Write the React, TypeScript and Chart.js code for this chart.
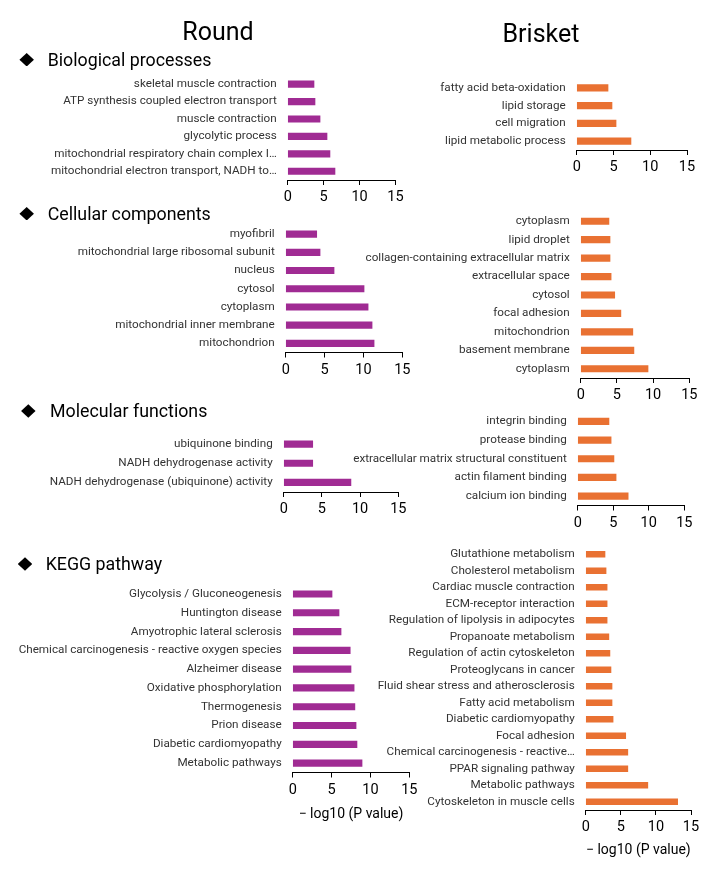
import React, { useEffect, useRef } from "react";
import { Chart, registerables } from "chart.js";

Chart.register(...registerables);

const PURPLE = "#A02B93";
const ORANGE = "#E97132";
const FONT = "Roboto, 'Liberation Sans', sans-serif";
const AXIS_TITLE = "− log10 (P value)";
const X_MIN = 0;
const X_MAX = 15;
const X_STEP = 5;

// ---------- data (top to bottom) ----------
const roundBPLabels = [
  "skeletal muscle contraction",
  "ATP synthesis coupled electron transport",
  "muscle contraction",
  "glycolytic process",
  "mitochondrial respiratory chain complex I…",
  "mitochondrial electron transport, NADH to…",
];
const roundBPValues = [3.66, 3.8, 4.5, 5.47, 5.88, 6.58];

const brisketBPLabels = [
  "fatty acid beta-oxidation",
  "lipid storage",
  "cell migration",
  "lipid metabolic process",
];
const brisketBPValues = [4.26, 4.8, 5.35, 7.38];

const roundCCLabels = [
  "myofibril",
  "mitochondrial large ribosomal subunit",
  "nucleus",
  "cytosol",
  "cytoplasm",
  "mitochondrial inner membrane",
  "mitochondrion",
];
const roundCCValues = [3.99, 4.42, 6.22, 10.08, 10.6, 11.11, 11.37];

const brisketCCLabels = [
  "cytoplasm",
  "lipid droplet",
  "collagen-containing extracellular matrix",
  "extracellular space",
  "cytosol",
  "focal adhesion",
  "mitochondrion",
  "basement membrane",
  "cytoplasm",
];
const brisketCCValues = [3.9, 4.05, 4.05, 4.2, 4.7, 5.55, 7.2, 7.35, 9.3];

const roundMFLabels = [
  "ubiquinone binding",
  "NADH dehydrogenase activity",
  "NADH dehydrogenase (ubiquinone) activity",
];
const roundMFValues = [3.8, 3.8, 8.8];

const brisketMFLabels = [
  "integrin binding",
  "protease binding",
  "extracellular matrix structural constituent",
  "actin filament binding",
  "calcium ion binding",
];
const brisketMFValues = [4.4, 4.7, 5.1, 5.4, 7.1];

const roundKEGGLabels = [
  "Glycolysis / Gluconeogenesis",
  "Huntington disease",
  "Amyotrophic lateral sclerosis",
  "Chemical carcinogenesis - reactive oxygen species",
  "Alzheimer disease",
  "Oxidative phosphorylation",
  "Thermogenesis",
  "Prion disease",
  "Diabetic cardiomyopathy",
  "Metabolic pathways",
];
const roundKEGGValues = [5.06, 5.96, 6.22, 7.4, 7.5, 7.9, 8.0, 8.15, 8.27, 8.92];

const brisketKEGGLabels = [
  "Glutathione metabolism",
  "Cholesterol metabolism",
  "Cardiac muscle contraction",
  "ECM-receptor interaction",
  "Regulation of lipolysis in adipocytes",
  "Propanoate metabolism",
  "Regulation of actin cytoskeleton",
  "Proteoglycans in cancer",
  "Fluid shear stress and atherosclerosis",
  "Fatty acid metabolism",
  "Diabetic cardiomyopathy",
  "Focal adhesion",
  "Chemical carcinogenesis - reactive…",
  "PPAR signaling pathway",
  "Metabolic pathways",
  "Cytoskeleton in muscle cells",
];
const brisketKEGGValues = [
  2.75, 2.9, 3.05, 3.05, 3.05, 3.3, 3.45, 3.6, 3.75, 3.75, 3.9, 5.7, 6.0, 6.0, 8.85, 13.1,
];

const columnTitles = ["Round", "Brisket"];
const sectionTitles = [
  "Biological processes",
  "Cellular components",
  "Molecular functions",
  "KEGG pathway",
];

// ---------- layout ----------
const PAGE_W = 720;
const PAGE_H = 869;

type Panel = {
  labels: string[];
  values: number[];
  color: string;
  left: number;
  right: number;
  top: number;
  bottom: number;
  bar: number;
  axisH: number;
  title: boolean;
};

const panels: Panel[] = [
  { labels: roundBPLabels, values: roundBPValues, color: PURPLE, left: 287.7, right: 395.5, top: 75.4, bottom: 180, bar: 6.5, axisH: 32, title: false },
  { labels: brisketBPLabels, values: brisketBPValues, color: ORANGE, left: 576.7, right: 687, top: 79, bottom: 150, bar: 6.5, axisH: 32, title: false },
  { labels: roundCCLabels, values: roundCCValues, color: PURPLE, left: 285.7, right: 402.3, top: 225, bottom: 352.5, bar: 6.5, axisH: 32, title: false },
  { labels: brisketCCLabels, values: brisketCCValues, color: ORANGE, left: 580.7, right: 689.3, top: 212, bottom: 378, bar: 6.5, axisH: 32, title: false },
  { labels: roundMFLabels, values: roundMFValues, color: PURPLE, left: 283.7, right: 398.3, top: 434.5, bottom: 492, bar: 6.5, axisH: 32, title: false },
  { labels: brisketMFLabels, values: brisketMFValues, color: ORANGE, left: 577.7, right: 684.3, top: 412, bottom: 505.5, bar: 6.5, axisH: 32, title: false },
  { labels: roundKEGGLabels, values: roundKEGGValues, color: PURPLE, left: 292.7, right: 409.3, top: 584.6, bottom: 772.5, bar: 6.5, axisH: 50, title: true },
  { labels: brisketKEGGLabels, values: brisketKEGGValues, color: ORANGE, left: 585.7, right: 691, top: 546, bottom: 810, bar: 6, axisH: 48.4, title: true },
];

function BarPanel({ p }: { p: Panel }) {
  const ref = useRef<HTMLCanvasElement>(null);
  useEffect(() => {
    if (!ref.current) return;
    const chart = new Chart(ref.current, {
      type: "bar",
      data: {
        labels: p.labels,
        datasets: [
          {
            data: p.values,
            backgroundColor: p.color,
            borderWidth: 0,
            barThickness: p.bar,
          },
        ],
      },
      options: {
        indexAxis: "y",
        responsive: false,
        animation: false,
        events: [],
        layout: {
          padding: {
            left: 0,
            top: p.top,
            right: PAGE_W - p.right,
            bottom: PAGE_H - p.bottom - p.axisH,
          },
        },
        plugins: {
          legend: { display: false },
          tooltip: { enabled: false },
        },
        scales: {
          y: {
            type: "category",
            afterFit: (s: any) => {
              s.width = p.left;
            },
            grid: { display: false, drawTicks: false },
            border: { display: false },
            ticks: {
              autoSkip: false,
              padding: 11,
              color: "#333333",
              font: { family: FONT, size: 11.7 },
            },
          },
          x: {
            type: "linear",
            min: X_MIN,
            max: X_MAX,
            afterFit: (s: any) => {
              s.height = p.axisH;
            },
            grid: {
              drawOnChartArea: false,
              drawTicks: true,
              tickLength: 5,
              color: "#000",
              lineWidth: 1,
            },
            border: { display: true, color: "#000", width: 1 },
            ticks: {
              stepSize: X_STEP,
              padding: 4,
              color: "#000",
              font: { family: FONT, size: 14.5 },
            },
            title: {
              display: p.title,
              text: AXIS_TITLE,
              color: "#000",
              padding: 0,
              font: { family: FONT, size: 14 },
            },
          },
        },
      },
    } as any);
    return () => chart.destroy();
  }, [p]);
  return (
    <canvas
      ref={ref}
      width={PAGE_W}
      height={PAGE_H}
      style={{ position: "absolute", left: 0, top: 0, width: PAGE_W, height: PAGE_H }}
    />
  );
}

function Text({ x, baseline, size, children, center }: any) {
  const top = baseline - 0.842 * size;
  const style: React.CSSProperties = center
    ? { position: "absolute", left: x - 150, width: 300, textAlign: "center", top, fontSize: size, lineHeight: `${size}px`, fontFamily: FONT, color: "#000", whiteSpace: "nowrap" }
    : { position: "absolute", left: x, top, fontSize: size, lineHeight: `${size}px`, fontFamily: FONT, color: "#000", whiteSpace: "nowrap" };
  return <div style={style}>{children}</div>;
}

function Diamond({ cx, cy }: { cx: number; cy: number }) {
  const w = 14.5;
  const h = 13.5;
  return (
    <div
      style={{
        position: "absolute",
        left: cx - w / 2,
        top: cy - h / 2,
        width: w,
        height: h,
        background: "#000",
        clipPath: "polygon(50% 0, 100% 50%, 50% 100%, 0 50%)",
      }}
    />
  );
}

const sectionPos = [
  { dx: 26.7, tx: 47.7, base: 66, cy: 59.7 },
  { dx: 26.7, tx: 47.7, base: 220, cy: 213.7 },
  { dx: 28.3, tx: 50, base: 417.3, cy: 411 },
  { dx: 25, tx: 45.7, base: 570, cy: 564 },
];

export default function App() {
  return (
    <div style={{ position: "absolute", left: 0, top: 0, width: PAGE_W, height: PAGE_H, background: "#fff", overflow: "hidden" }}>
      {panels.map((p, i) => (
        <BarPanel key={i} p={p} />
      ))}
      <Text x={218} baseline={40} size={25} center>
        {columnTitles[0]}
      </Text>
      <Text x={541} baseline={42.3} size={25} center>
        {columnTitles[1]}
      </Text>
      {sectionTitles.map((t, i) => (
        <React.Fragment key={t}>
          <Diamond cx={sectionPos[i].dx} cy={sectionPos[i].cy} />
          <Text x={sectionPos[i].tx} baseline={sectionPos[i].base} size={17.8}>
            {t}
          </Text>
        </React.Fragment>
      ))}
    </div>
  );
}
